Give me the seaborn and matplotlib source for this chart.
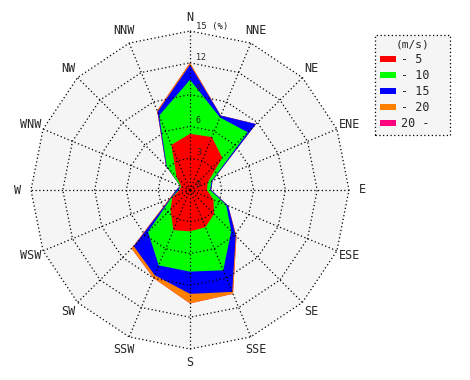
import numpy as np
import matplotlib
matplotlib.use("Agg")
import matplotlib.pyplot as plt
import seaborn as sns
from matplotlib.patches import Patch

# wind rose data (% frequency per speed class, 16 directions clockwise from N)
directions = ["N", "NNE", "NE", "ENE", "E", "ESE", "SE", "SSE",
              "S", "SSW", "SW", "WSW", "W", "WNW", "NW", "NNW"]
speed_labels = ["- 5", "- 10", "- 15", "- 20", "20 -"]
speed_colors = ["#ff0000", "#00ff00", "#0000ff", "#ff8000", "#ff0080"]

freq_0_5 = [5.3, 5.4, 4.3, 1.8, 1.6, 2.4, 3.2, 3.8, 3.9, 4.1, 2.6, 1.8, 1.0, 0.9, 1.8, 4.6]
freq_5_10 = [5.1, 2.0, 3.4, 0.4, 0.3, 1.3, 2.3, 4.4, 3.8, 3.6, 3.0, 0.1, 0.1, 0.1, 1.3, 3.0]
freq_10_15 = [1.4, 0.2, 1.1, 0.1, 0.1, 0.2, 0.6, 2.2, 2.1, 1.0, 1.9, 0.1, 0.2, 0.0, 0.1, 0.4]
freq_15_20 = [0.2, 0.0, 0.0, 0.0, 0.0, 0.0, 0.1, 0.2, 0.9, 0.3, 0.3, 0.1, 0.0, 0.0, 0.0, 0.1]
freq_20_up = [0.0] * 16

ring_values = [3, 6, 9, 12, 15]
r_max = 15

sns.set_theme(style="white")
plt.rcParams["font.family"] = ["DejaVu Sans Mono"]

fig = plt.figure(figsize=(4.7, 3.8), dpi=100)
ax = fig.add_axes([31 / 470, 31 / 380, 318 / 470, 318 / 380], projection="polar")
ax.set_theta_zero_location("N")
ax.set_theta_direction(-1)
ax.set_ylim(0, r_max)
ax.grid(False)
ax.set_xticks([])
ax.set_yticks([])
ax.spines["polar"].set_visible(False)
ax.patch.set_visible(False)

theta = np.deg2rad(np.arange(16) * 22.5)
theta_c = np.append(theta, theta[0])

# background polygon
ax.fill(theta_c, [r_max] * 17, color="#f5f5f5", lw=0, zorder=0)

# cumulative stacks, outermost first
layers = np.cumsum([freq_0_5, freq_5_10, freq_10_15, freq_15_20, freq_20_up], axis=0)
for vals, col in reversed(list(zip(layers, speed_colors))):
    v = np.append(vals, vals[0])
    ax.fill(theta_c, v, color=col, lw=0, zorder=1)

# polygon grid
grid_kw = dict(color="black", lw=0.9, linestyle=(0, (1, 2)), zorder=3, clip_on=False)
for r in ring_values:
    ax.plot(theta_c, [r] * 17, **grid_kw)
for t in theta:
    ax.plot([t, t], [0, r_max], **grid_kw)

# direction labels
for t, name in zip(theta, directions):
    ax.text(t, 16.25, name, ha="center", va="center", fontsize=8.5)

# ring labels
for r in [0] + ring_values[:-1]:
    ax.annotate(str(r), xy=(0, r), xytext=(4.3, 0.8), textcoords="offset points",
                ha="left", va="bottom", fontsize=6)
ax.annotate("15 (%)", xy=(0, r_max), xytext=(4.3, 0.3), textcoords="offset points",
            ha="left", va="bottom", fontsize=6.5)

handles = [Patch(facecolor=c, edgecolor="none") for c in speed_colors]
leg = fig.legend(handles, speed_labels, title="(m/s)", loc="upper left", mode="expand",
                 bbox_to_anchor=(375 / 470, 1 - 131 / 380, 75 / 470, 96 / 380),
                 bbox_transform=fig.transFigure,
                 borderaxespad=0, fontsize=8.5, title_fontsize=8, fancybox=False,
                 framealpha=1, edgecolor="black", facecolor="#f5f5f5",
                 handlelength=1.4, handleheight=0.4, handletextpad=0.4,
                 labelspacing=0.26, borderpad=0.4)
leg.get_frame().set_linestyle((0, (1, 2)))
leg.get_frame().set_linewidth(0.9)

fig.savefig("out.png", dpi=100, facecolor="white")
